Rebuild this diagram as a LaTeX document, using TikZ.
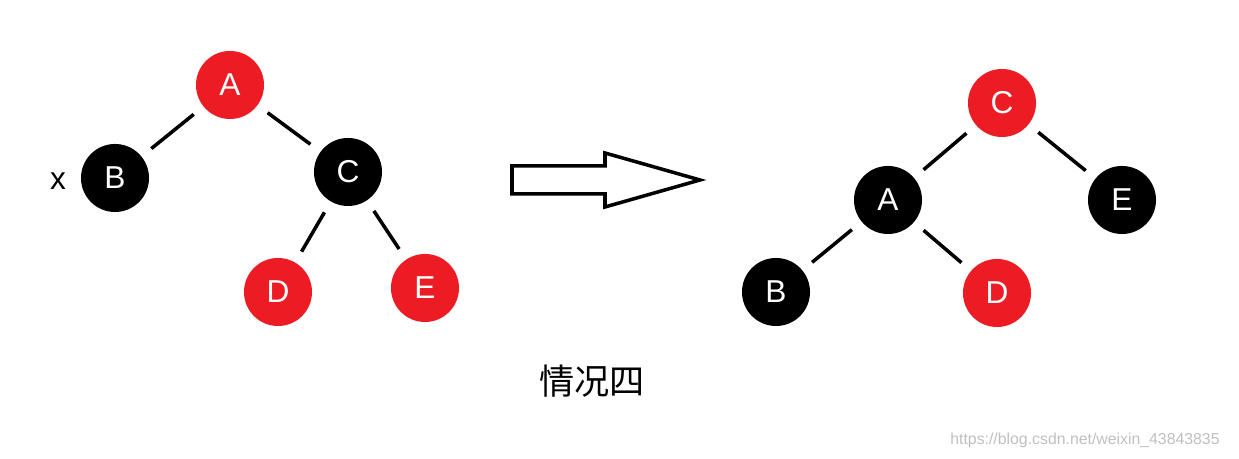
\documentclass[tikz,border=0pt]{standalone}
\usepackage{fontspec}
\setmainfont{Liberation Sans}
\newfontfamily\cjk{Noto Sans CJK SC}
\definecolor{rbred}{HTML}{ED1C24}
\begin{document}
\begin{tikzpicture}[x=0.01cm,y=-0.01cm,
  rn/.style={circle,fill=rbred,minimum size=0.68cm,inner sep=0pt,text=white,font=\fontsize{9}{10}\selectfont},
  bn/.style={circle,fill=black,minimum size=0.68cm,inner sep=0pt,text=white,font=\fontsize{9}{10}\selectfont},
  ed/.style={line width=1pt,shorten >=0.12cm,shorten <=0.12cm}]
\useasboundingbox (0,0) rectangle (1239,459);
\node[rn] (A) at (230,85) {A};
\node[bn] (B) at (115,178) {B};
\node[bn] (C) at (348,172) {C};
\node[rn] (D) at (278,292) {D};
\node[rn] (E) at (425,288) {E};
\node (x) at (58,181) {\fontsize{9}{10}\selectfont x};
\draw[ed] (A)--(B); \draw[ed] (A)--(C); \draw[ed] (C)--(D); \draw[ed] (C)--(E);
\node[rn] (C2) at (1002,103) {C};
\node[bn] (A2) at (888,200) {A};
\node[bn] (E2) at (1122,200) {E};
\node[bn] (B2) at (776,292) {B};
\node[rn] (D2) at (997,293) {D};
\draw[ed] (C2)--(A2); \draw[ed] (C2)--(E2); \draw[ed] (A2)--(B2); \draw[ed] (A2)--(D2);
\draw[line width=1pt] (512,166)--(605,166)--(605,153)--(700,180)--(605,207)--(605,194)--(512,194)--cycle;
\node (t) at (592,381) {\cjk\fontsize{10}{12}\selectfont 情况四};
\node[text=gray!50,anchor=east] (w) at (1232,440) {\fontsize{4.5}{5}\selectfont https://blog.csdn.net/weixin\_43843835};
\end{tikzpicture}
\end{document}
